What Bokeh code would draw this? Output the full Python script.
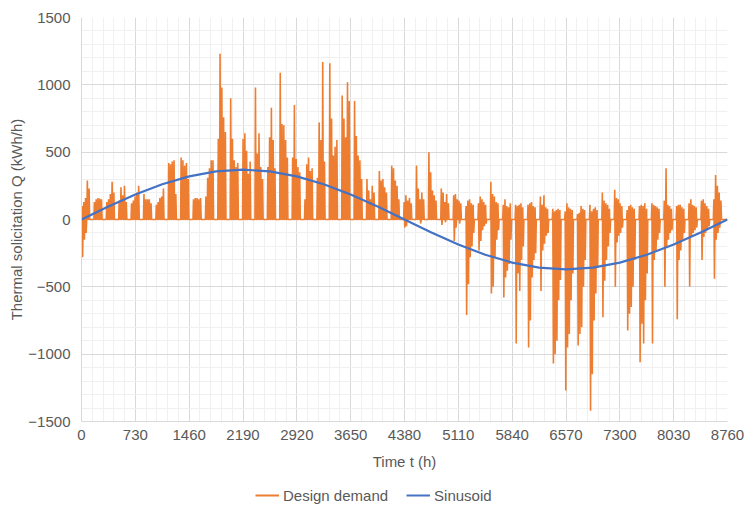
from bokeh.plotting import figure
from bokeh.models import FixedTicker, Legend, LegendItem
from bokeh.layouts import column
from bokeh.embed import file_html
from bokeh.resources import INLINE

# ---- data ----
# weekly blocks: 5 working days (daily max / daily min), then 2 weekend days at 0
week_max = [
    [100, 130, 160, 290, 230], [130, 150, 160, 155, 150], [130, 150, 190, 280, 200],
    [140, 240, 180, 250, 130], [120, 140, 170, 200, 250], [190, 150, 150, 150, 120],
    [110, 130, 160, 170, 230], [420, 410, 430, 440, 190], [460, 440, 400, 420, 300],
    [150, 160, 160, 150, 160], [170, 310, 380, 440, 440], [600, 1230, 980, 760, 650],
    [900, 600, 440, 390, 420], [600, 640, 510, 340, 430], [980, 490, 640, 390, 300],
    [390, 610, 830, 590, 380], [1090, 710, 700, 590, 460], [460, 850, 450, 390, 350],
    [150, 410, 460, 360, 380], [310, 720, 590, 1170, 430], [1160, 750, 475, 540, 590],
    [920, 750, 610, 1020, 880], [880, 620, 475, 440, 300], [300, 215, 150, 250, 200],
    [360, 290, 300, 240, 200], [400, 380, 290, 250, 150], [130, 180, 140, 160, 120],
    [400, 230, 150, 200, 150], [500, 350, 215, 180, 140], [230, 200, 130, 190, 120],
    [180, 190, 150, 140, 120], [100, 140, 150, 120, 110], [120, 170, 150, 130, 110],
    [280, 190, 170, 130, 120], [110, 150, 100, 90, 120], [110, 100, 110, 120, 90],
    [110, 120, 130, 100, 90], [170, 110, 180, 90, 80], [80, 60, 70, 80, 70],
    [60, 120, 90, 80, 70], [40, 50, 100, 80, 70], [110, 60, 80, 90, 70],
    [200, 140, 120, 110, 80], [220, 160, 150, 120, 100], [70, 100, 110, 90, 80],
    [100, 110, 100, 120, 80], [120, 110, 100, 90, 80], [140, 380, 110, 100, 80],
    [100, 110, 110, 90, 80], [120, 150, 110, 100, 90], [140, 150, 120, 100, 80],
    [150, 330, 250, 200, 140],
]
week_min = [
    [-280, -150, -100, 0, 0]] + [[0, 0, 0, 0, 0]] * 25 + [
    [-60, -50, 0, 0, 0], [0, 0, -30, 0, 0], [0, 0, 0, 0, 0], [-40, 0, -20, 0, 0],
    [-160, -60, 0, -30, 0], [-710, -480, -280, -200, -100], [-230, -160, -80, -50, -30],
    [-550, -500, -280, -150, -80], [-580, -430, -380, -330, -150],
    [-920, -400, -530, -300, -200], [-950, -750, -430, -300, -250],
    [-530, -230, -180, -120, -100], [-1070, -1000, -900, -600, -450],
    [-1270, -950, -850, -600, -400], [-935, -850, -800, -500, -300],
    [-1420, -1150, -750, -550, -350], [-725, -455, -300, -200, -100],
    [-500, -170, -120, -100, -60], [-825, -700, -650, -500, -300],
    [-1060, -775, -920, -600, -400], [-920, -300, -230, -150, -100],
    [-500, -200, -150, -100, -80], [-740, -300, -230, -150, -100],
    [-500, -130, -100, -80, -60], [-300, -130, -100, -80, -50],
    [-440, -150, -100, -60, 0],
]
sin_t = [0, 365, 730, 1095, 1460, 1825, 2190, 2555, 2920, 3285, 3650, 4015, 4380,
         4745, 5110, 5475, 5840, 6205, 6570, 6935, 7300, 7665, 8030, 8395, 8760]
sin_q = [0, 96, 185, 262, 320, 357, 370, 357, 320, 262, 185, 96, 0,
         -96, -185, -262, -320, -357, -370, -357, -320, -262, -185, -96, 0]
x_ticks = [0, 730, 1460, 2190, 2920, 3650, 4380, 5110, 5840, 6570, 7300, 8030, 8760]
y_ticks = [-1500, -1000, -500, 0, 500, 1000, 1500]

# ---- build demand line from daily values ----
dem_t, dem_q = [], []
for w in range(len(week_max)):
    for d in range(7):
        start = (w * 7 + d) * 24
        if d < 5:
            mx, mn = week_max[w][d], week_min[w][d]
        else:
            mx, mn = 0, 0
        dem_t += [start, start + 7, start + 15, start + 23]
        dem_q += [0, mx, mn, 0]
dem_t.append(8760)
dem_q.append(0)

FONT = "Liberation Sans"
TXT = "#595959"
C_DEM = "#ED7D31"
C_SIN = "#4472C4"

p = figure(width=746, height=480, output_backend="svg", toolbar_location=None,
           x_range=(0, 8760), y_range=(-1500, 1500),
           min_border_left=81, min_border_right=19, min_border_top=17, min_border_bottom=59)
p.outline_line_color = None
p.background_fill_color = "white"

p.line(dem_t, dem_q, line_color=C_DEM, line_width=1.6)
p.line(sin_t, sin_q, line_color=C_SIN, line_width=2.2)

p.xaxis.ticker = FixedTicker(ticks=x_ticks, minor_ticks=list(range(0, 8761, 146)))
p.yaxis.ticker = FixedTicker(ticks=y_ticks, minor_ticks=list(range(-1500, 1501, 100)))
for ax in (p.xaxis, p.yaxis):
    ax.axis_line_color = "#d9d9d9"
    ax.major_tick_line_color = None
    ax.minor_tick_line_color = None
    ax.major_tick_out = 0
    ax.minor_tick_out = 0
    ax.major_label_text_font = FONT
    ax.major_label_text_font_size = "15px"
    ax.major_label_text_color = TXT
    ax.axis_label_text_font = FONT
    ax.axis_label_text_font_size = "15px"
    ax.axis_label_text_font_style = "normal"
    ax.axis_label_text_color = TXT
p.xaxis.axis_label = "Time t (h)"
p.yaxis.axis_label = "Thermal solicitation Q (kWh/h)"
p.xaxis.major_label_standoff = 8
p.yaxis.major_label_standoff = 11
p.xaxis.axis_label_standoff = 10
p.yaxis.axis_label_standoff = 0

for g in (p.xgrid, p.ygrid):
    g.grid_line_color = "#d9d9d9"
    g.minor_grid_line_color = "#f0f0f0"

# legend strip below the chart
q = figure(width=746, height=32, output_backend="svg", toolbar_location=None,
           x_range=(0, 1), y_range=(0, 1), min_border=0)
q.axis.visible = False
q.grid.visible = False
q.outline_line_color = None
nan = float("nan")
l1 = q.line([nan], [nan], line_color=C_DEM, line_width=2)
l2 = q.line([nan], [nan], line_color=C_SIN, line_width=2)
legend = Legend(items=[LegendItem(label="Design demand", renderers=[l1]),
                       LegendItem(label="Sinusoid", renderers=[l2])],
                orientation="horizontal", location=(174, 7),
                label_text_font=FONT, label_text_font_size="15px",
                label_text_color=TXT, border_line_color=None,
                background_fill_alpha=0, label_height=20, glyph_height=20,
                glyph_width=24, label_standoff=4, spacing=18, padding=0, margin=0)
q.add_layout(legend, "center")

open("out.html", "w").write(file_html(column(p, q, spacing=0), INLINE))
